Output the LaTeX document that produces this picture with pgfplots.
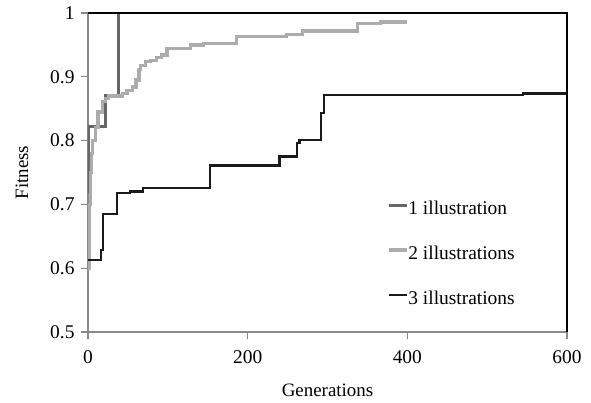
\documentclass[border=0pt]{standalone}
\usepackage{fontspec}
\setmainfont{Liberation Serif}
\usepackage{pgfplots}
\pgfplotsset{compat=1.18}
\definecolor{sone}{RGB}{102,102,102}
\definecolor{stwo}{RGB}{172,172,172}
\definecolor{sthree}{RGB}{26,26,26}
\definecolor{axgray}{RGB}{137,137,137}
\begin{document}
\begin{tikzpicture}
\path[use as bounding box] (-88bp,-71bp) rectangle (503bp,332bp);
\begin{axis}[
  at={(0,0)}, anchor=south west,
  scale only axis, width=479bp, height=319bp,
  xmin=0, xmax=600, ymin=0.5, ymax=1,
  xtick={0,200,400,600},
  ytick={0.5,0.6,0.7,0.8,0.9,1},
  yticklabel style={/pgf/number format/fixed, /pgf/number format/precision=1, xshift=-3bp},
  xticklabel style={yshift=-8bp},
  /pgf/number format/assume math mode=true,
  axis lines=left,
  axis line style={-, draw=axgray, line width=1.2bp},
  tick style={draw=axgray, line width=1.2bp},
  major tick length=7bp,
  tick align=outside,
  clip mode=individual,
  tick label style={font=\fontsize{19.5}{23}\selectfont},
  xlabel={Generations}, ylabel={Fitness},
  label style={font=\fontsize{19}{23}\selectfont},
  xlabel style={at={(axis description cs:0.5,-0.1818)}, anchor=center},
  ylabel style={at={(axis description cs:-0.1378,0.5)}, anchor=center, rotate=0},
  legend style={at={(rel axis cs:0.624,0.41)}, anchor=north west, draw=none, fill=none,
    inner sep=0pt, row sep=30bp, font=\fontsize{19.5}{23}\selectfont,
    nodes={inner sep=0pt}},
  legend cell align=left,
  legend image code/.code={\draw[#1] (0bp,0.38em) -- (18bp,0.38em);},
]
\addplot[const plot, color=sone, line width=3bp] coordinates {
(0,0.72) (0.5,0.822) (22,0.871) (38.5,1.0)
};
\addlegendentry{1 illustration}
\addplot[const plot, color=stwo, line width=3.3bp] coordinates {
(0,0.60) (1.5,0.70) (3,0.75) (4.5,0.78) (6,0.80) (9.5,0.82) (12.5,0.845) (18,0.861)
(22,0.866) (26,0.870) (43,0.874) (49,0.878) (55.5,0.884) (60,0.895) (64,0.911)
(66,0.918) (72,0.924) (78.5,0.926) (86,0.930) (92,0.934) (99,0.944) (128,0.950)
(145,0.952) (186,0.963) (249,0.966) (269,0.972) (338,0.984) (366,0.986) (399,0.986)
};
\addlegendentry{2 illustrations}
\addplot[const plot, color=sthree, line width=2.3bp] coordinates {
(0,0.613) (16,0.629) (18.5,0.685) (36.5,0.718) (52.5,0.720) (69,0.726) (153,0.761)
(240,0.775) (261.5,0.796) (265,0.801) (291.5,0.843) (295.5,0.871) (545,0.874) (600,0.874)
};
\addlegendentry{3 illustrations}
\draw[black, line width=1.3bp] (rel axis cs:0,1) -- (rel axis cs:1,1) -- (rel axis cs:1,0);
\end{axis}
\end{tikzpicture}
\end{document}
